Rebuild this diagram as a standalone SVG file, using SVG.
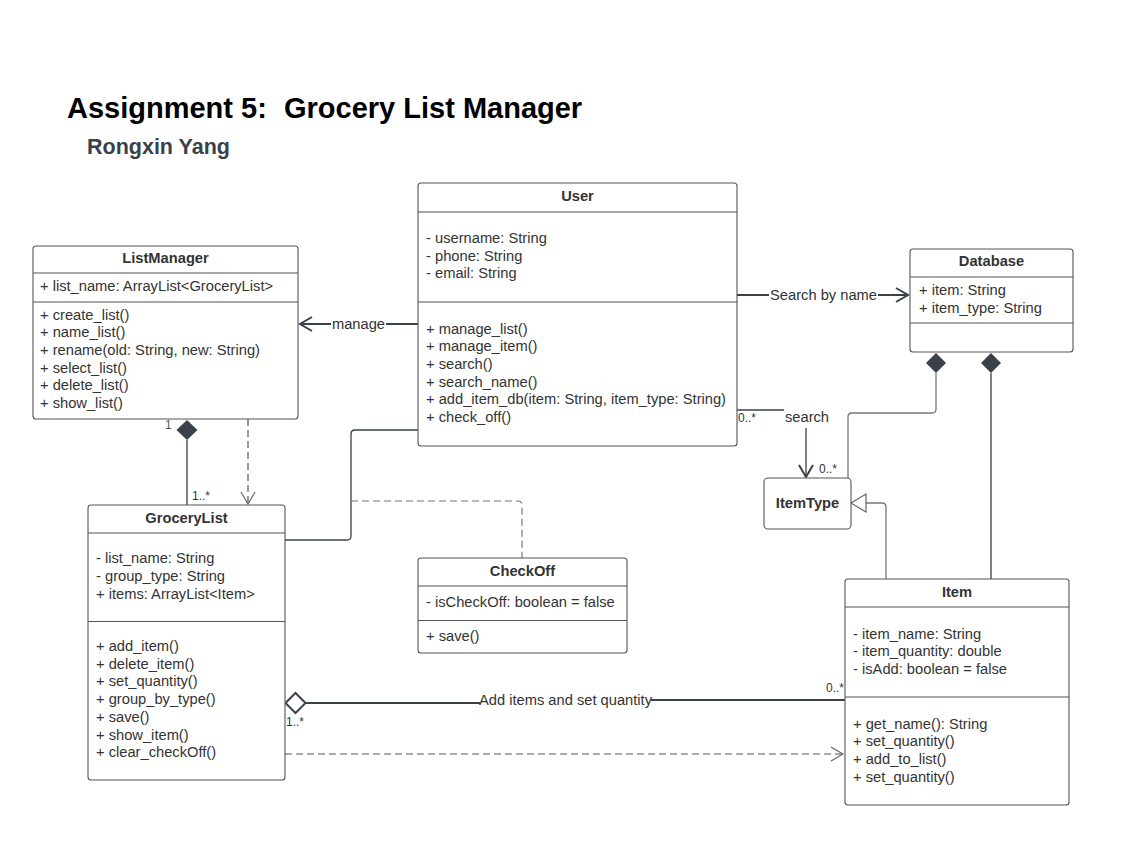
<svg xmlns="http://www.w3.org/2000/svg" width="1131" height="866" viewBox="0 0 1131 866">
<style>
  text { font-family: "Liberation Sans", Arial, sans-serif; fill: #333; }
  .t { font-size: 14.7px; }
  .h { font-size: 14.7px; font-weight: bold; text-anchor: middle; fill: #333; }
  .box { fill: #fff; stroke: #555; stroke-width: 1.1; }
  .sep { stroke: #555; stroke-width: 1.1; }
  .ln { fill: none; stroke: #3a414a; stroke-width: 1.3; }
  .thk { fill: none; stroke: #3a414a; stroke-width: 2.2; }
  .dash { fill: none; stroke: #555; stroke-width: 1.2; stroke-dasharray: 7 4; }
  .gdash { fill: none; stroke: #777; stroke-width: 1.2; stroke-dasharray: 7 4; }
  .lbl { font-size: 14.7px; fill: #333; }
  .m { font-size: 12px; fill: #333; }
  .bg { fill: #fff; }
</style>
<defs>
  <marker id="open" markerUnits="userSpaceOnUse" markerWidth="20" markerHeight="20" refX="14" refY="8" orient="auto" overflow="visible">
    <path d="M2,1 L14,8 L2,15" fill="none" stroke="#3a414a" stroke-width="2"/>
  </marker>
  <marker id="openThin" markerUnits="userSpaceOnUse" markerWidth="20" markerHeight="20" refX="13" refY="8" orient="auto" overflow="visible">
    <path d="M1,1 L13,8 L1,15" fill="none" stroke="#666" stroke-width="1.2"/>
  </marker>
</defs>
<rect width="1131" height="866" fill="#fff"/>

<g id="title">
  <text x="67" y="118" style="font-size:29px;font-weight:bold;fill:#000">Assignment 5:</text>
  <text x="284" y="118" style="font-size:29px;font-weight:bold;fill:#000">Grocery List Manager</text>
  <text x="87" y="154" style="font-size:21.5px;font-weight:bold;fill:#3a414a">Rongxin Yang</text>
</g>

<g id="connectors">
  <!-- User -> ListManager : manage -->
  <path class="thk" d="M418,324 H300" marker-end="url(#open)"/>
  <rect class="bg" x="331" y="314" width="55" height="20"/>
  <text class="lbl" x="358.5" y="329" text-anchor="middle">manage</text>

  <!-- User -> Database : Search by name -->
  <path class="thk" d="M737,295 H908" marker-end="url(#open)"/>
  <rect class="bg" x="769" y="285" width="109" height="20"/>
  <text class="lbl" x="823.5" y="300" text-anchor="middle">Search by name</text>

  <!-- User -> ItemType : search -->
  <path class="ln" d="M737,410 H802 Q806,410 806,414 V477" marker-end="url(#open)"/>
  <rect class="bg" x="784" y="404" width="46" height="24"/>
  <text class="lbl" x="807" y="422" text-anchor="middle">search</text>
  <text class="m" x="738" y="422">0..*</text>
  <text class="m" x="819" y="473">0..*</text>

  <!-- Database composition -> ItemType -->
  <path class="ln" d="M936,373 V409 Q936,413 932,413 H852 Q848,413 848,417 V478" style="stroke:#777"/>
  <polygon points="936,353 946,363 936,373 926,363" fill="#3a414a"/>

  <!-- Database composition -> Item -->
  <path class="ln" d="M991,373 V579"/>
  <polygon points="991,353 1001,363 991,373 981,363" fill="#3a414a"/>

  <!-- Item generalization -> ItemType -->
  <path class="ln" d="M886,579 V507 Q886,503 882,503 H866" style="stroke:#777"/>
  <polygon points="851,503 866,494 866,512" fill="#fff" stroke="#666" stroke-width="1.2"/>

  <!-- ListManager composition GroceryList -->
  <path class="ln" d="M187,440 V505"/>
  <polygon points="187,420 197.5,430 187,440 176.5,430" fill="#3a414a"/>
  <text class="m" x="165" y="429" style="fill:#555">1</text>
  <text class="m" x="192" y="500">1..*</text>

  <!-- ListManager dependency GroceryList -->
  <path class="dash" d="M248,419 V504" marker-end="url(#openThin)"/>

  <!-- User - GroceryList association -->
  <path class="ln" d="M418,430 H355 Q351,430 351,434 V536 Q351,540 347,540 H285"/>

  <!-- association class CheckOff -->
  <path class="gdash" d="M351,501 H518 Q522,501 522,505 V558"/>

  <!-- GroceryList aggregation Item -->
  <path class="thk" d="M306,703 H480"/>
  <path class="thk" d="M651,700 H845"/>
  <polygon points="285.5,703 295.5,693 305.5,703 295.5,713" fill="#fff" stroke="#3a414a" stroke-width="2"/>
  <text class="lbl" x="565.5" y="705" text-anchor="middle">Add items and set quantity</text>
  <text class="m" x="286" y="726">1..*</text>
  <text class="m" x="826" y="692">0..*</text>

  <!-- GroceryList dependency Item -->
  <path class="dash" d="M285,754 H843" marker-end="url(#openThin)"/>
</g>

<g id="ListManager">
  <rect class="box" x="33" y="246" width="265" height="173" rx="3"/>
  <line class="sep" x1="33" y1="273" x2="298" y2="273"/>
  <line class="sep" x1="33" y1="302" x2="298" y2="302"/>
  <text class="h" x="165.5" y="263">ListManager</text>
  <text class="t" x="40" y="291">+ list_name: ArrayList&lt;GroceryList&gt;</text>
  <text class="t" x="40" y="319.5">+ create_list()</text>
  <text class="t" x="40" y="337.2">+ name_list()</text>
  <text class="t" x="40" y="354.9">+ rename(old: String, new: String)</text>
  <text class="t" x="40" y="372.5">+ select_list()</text>
  <text class="t" x="40" y="390.2">+ delete_list()</text>
  <text class="t" x="40" y="407.9">+ show_list()</text>
</g>

<g id="User">
  <rect class="box" x="418" y="183" width="319" height="263" rx="3"/>
  <line class="sep" x1="418" y1="212" x2="737" y2="212"/>
  <line class="sep" x1="418" y1="302" x2="737" y2="302"/>
  <text class="h" x="577.5" y="201">User</text>
  <text class="t" x="426" y="243">- username: String</text>
  <text class="t" x="426" y="260.6">- phone: String</text>
  <text class="t" x="426" y="278.3">- email: String</text>
  <text class="t" x="426" y="333.5">+ manage_list()</text>
  <text class="t" x="426" y="351.2">+ manage_item()</text>
  <text class="t" x="426" y="368.9">+ search()</text>
  <text class="t" x="426" y="386.6">+ search_name()</text>
  <text class="t" x="426" y="404.3">+ add_item_db(item: String, item_type: String)</text>
  <text class="t" x="426" y="422">+ check_off()</text>
</g>

<g id="Database">
  <rect class="box" x="910" y="249" width="163" height="103" rx="3"/>
  <line class="sep" x1="910" y1="277" x2="1073" y2="277"/>
  <line class="sep" x1="910" y1="323" x2="1073" y2="323"/>
  <text class="h" x="991.5" y="266">Database</text>
  <text class="t" x="919" y="295.3">+ item: String</text>
  <text class="t" x="919" y="313">+ item_type: String</text>
</g>

<g id="ItemType">
  <rect class="box" x="764" y="478" width="87" height="51" rx="4"/>
  <text class="h" x="807.5" y="508">ItemType</text>
</g>

<g id="GroceryList">
  <rect class="box" x="88" y="505" width="197" height="275" rx="3"/>
  <line class="sep" x1="88" y1="533" x2="285" y2="533"/>
  <line class="sep" x1="88" y1="621.5" x2="285" y2="621.5"/>
  <text class="h" x="186.5" y="523">GroceryList</text>
  <text class="t" x="96" y="563">- list_name: String</text>
  <text class="t" x="96" y="580.8">- group_type: String</text>
  <text class="t" x="96" y="598.5">+ items: ArrayList&lt;Item&gt;</text>
  <text class="t" x="96" y="651">+ add_item()</text>
  <text class="t" x="96" y="668.7">+ delete_item()</text>
  <text class="t" x="96" y="686.4">+ set_quantity()</text>
  <text class="t" x="96" y="704.1">+ group_by_type()</text>
  <text class="t" x="96" y="721.8">+ save()</text>
  <text class="t" x="96" y="739.5">+ show_item()</text>
  <text class="t" x="96" y="757.2">+ clear_checkOff()</text>
</g>

<g id="CheckOff">
  <rect class="box" x="418" y="558" width="209" height="95" rx="3"/>
  <line class="sep" x1="418" y1="586" x2="627" y2="586"/>
  <line class="sep" x1="418" y1="620.5" x2="627" y2="620.5"/>
  <text class="h" x="522.5" y="576">CheckOff</text>
  <text class="t" x="426" y="607">- isCheckOff: boolean = false</text>
  <text class="t" x="426" y="641">+ save()</text>
</g>

<g id="Item">
  <rect class="box" x="845" y="579" width="224" height="226" rx="3"/>
  <line class="sep" x1="845" y1="607" x2="1069" y2="607"/>
  <line class="sep" x1="845" y1="697" x2="1069" y2="697"/>
  <text class="h" x="957" y="597">Item</text>
  <text class="t" x="853" y="638.6">- item_name: String</text>
  <text class="t" x="853" y="656.3">- item_quantity: double</text>
  <text class="t" x="853" y="674">- isAdd: boolean = false</text>
  <text class="t" x="853" y="728.6">+ get_name(): String</text>
  <text class="t" x="853" y="746.3">+ set_quantity()</text>
  <text class="t" x="853" y="764">+ add_to_list()</text>
  <text class="t" x="853" y="781.7">+ set_quantity()</text>
</g>
</svg>
